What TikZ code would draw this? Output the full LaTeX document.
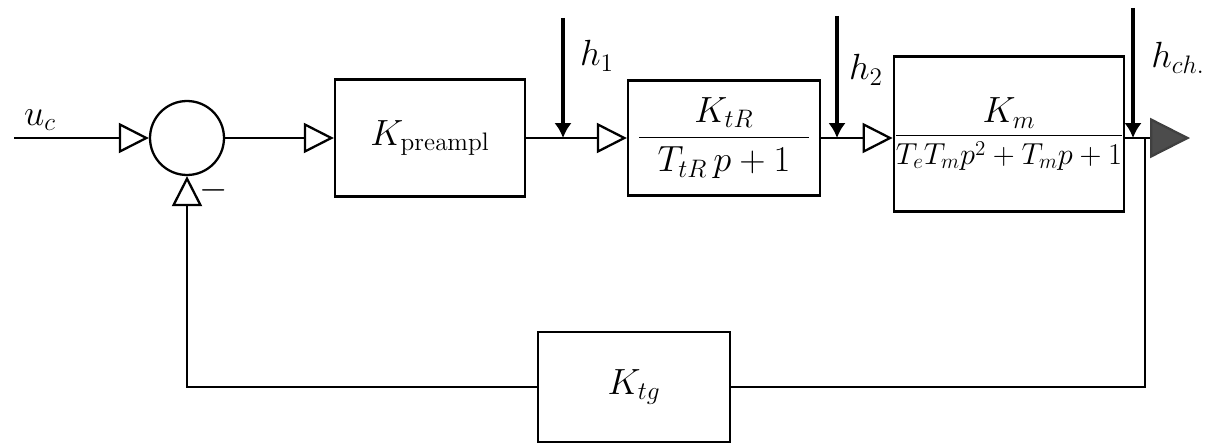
\documentclass[tikz,border=0pt]{standalone}
\usepackage{amsmath}
\usepackage{xcolor}
\usepackage{tikz}
\usetikzlibrary{arrows.meta,positioning}

\begin{document}
\begin{tikzpicture}[x=0.02cm,y=-0.02cm,font=\huge,
   box/.style={draw,line width=1.3pt,inner sep=0pt,align=center},
   sig/.style={line width=1.3pt,-{Triangle[open,length=6mm,width=6mm,line width=1.3pt]}},
   dist/.style={line width=2.6pt,-{Latex[length=3mm,width=3.5mm]}},
   lbl/.style={font=\huge}]
  \useasboundingbox (0,0) rectangle (1222,446);
  \node[draw,circle,line width=1.3pt,minimum size=1.48cm] (sum) at (187,138) {};
  \node[box,minimum width=3.8cm,minimum height=2.34cm] (pre) at (430,138) {$K_{\mathrm{preampl}}$};
  \node[box,minimum width=3.84cm,minimum height=2.3cm] (conv) at (724,138)
     {$\dfrac{\makebox[3.4cm]{$K_{tR}$}}{T_{tR}\,p+1}$};
  \node[box,minimum width=4.56cm,minimum height=3.1cm] (motor) at (1009,134)
     {\fontsize{17.5pt}{21pt}\selectfont$\dfrac{\makebox[4.2cm]{\huge$K_m$}}{T_eT_mp^2+T_mp+1}$};
  \node[box,minimum width=3.84cm,minimum height=2.2cm] (tg) at (634,387) {$K_{tg}$};
  \coordinate (in) at (14,138);
  \coordinate (h1top) at (563,18);
  \coordinate (h2top) at (837,16);
  \coordinate (hchtop) at (1133,8);
  \coordinate (br) at (1145,138);
  \coordinate (out) at (1190,138);
  \node[lbl] (uc) at (40,120) {$u_c$};
  \node[lbl] (h1) at (597,56) {$h_1$};
  \node[lbl] (h2) at (866,70) {$h_2$};
  \node[lbl] (hch) at (1178,58) {$h_{ch.}$};
  \node[lbl] (minus) at (214,190) {$-$};
  \draw[sig] (in) -- (sum);
  \draw[sig] (sum) -- (pre);
  \draw[sig] (pre) -- (conv);
  \draw[sig] (conv) -- (motor.west |- conv.east);
  \draw[line width=1.3pt,-{Triangle[length=8mm,width=8mm,fill=gray!60!black,color=gray!50!black]}] (motor.east |- br) -- (out);
  \draw[dist] (h1top) -- (h1top |- pre.east);
  \draw[dist] (h2top) -- (h2top |- conv.east);
  \draw[dist] (hchtop) -- (hchtop |- br);
  \draw[line width=1.3pt] (br) |- (tg.east);
  \draw[sig] (tg.west) -| (sum.south);
\end{tikzpicture}
\end{document}
